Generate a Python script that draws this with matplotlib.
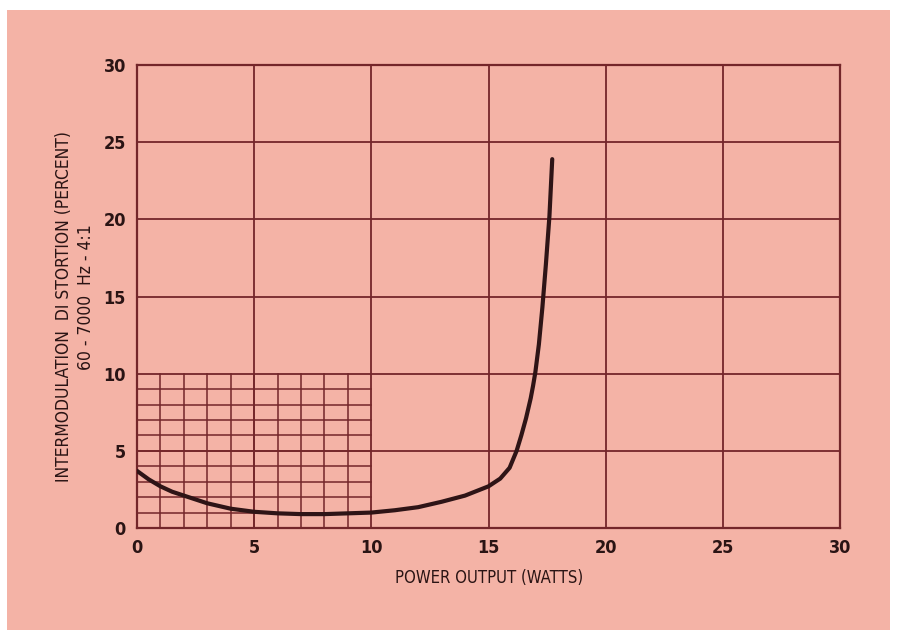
import matplotlib.pyplot as plt
import numpy as np
from matplotlib import font_manager

# curva de distorção por intermodulação
potencia = [0, 0.5, 1, 1.5, 2, 3, 4, 5, 6, 7, 8, 9, 10, 11, 12, 13, 14, 15,
            15.5, 15.9, 16.2, 16.4, 16.6, 16.8, 16.9, 17.0, 17.15, 17.3,
            17.45, 17.6, 17.72]
distorcao = [3.7, 3.15, 2.7, 2.35, 2.1, 1.6, 1.25, 1.05, 0.95, 0.9, 0.9, 0.95,
             1.0, 1.15, 1.35, 1.7, 2.1, 2.7, 3.2, 3.9, 5.0, 6.0, 7.1, 8.4,
             9.2, 10.1, 11.9, 14.3, 17.1, 20.2, 23.9]

ticks = [0, 5, 10, 15, 20, 25, 30]
fino = np.arange(1, 10)

fundo = '#f4b3a6'
cor_grade = '#74262a'
cor_texto = '#2a1414'

nomes = {f.name for f in font_manager.fontManager.ttflist}
fonte = ['Liberation Sans Narrow'] if 'Liberation Sans Narrow' in nomes else ['DejaVu Sans']
esticar = 'normal' if fonte[0] == 'Liberation Sans Narrow' else 'condensed'

fig = plt.figure(figsize=(9, 6.3), dpi=100)
fig.patch.set_facecolor('white')
# papel rosa com margem branca em cima e nos lados
fig.add_artist(plt.Rectangle((7 / 900, 0), 883 / 900, 1 - 10 / 630,
                             transform=fig.transFigure, facecolor=fundo,
                             edgecolor='none', zorder=0))

ax = fig.add_axes([137 / 900, 1 - 528 / 630, 703 / 900, 463 / 630])
ax.set_facecolor('none')
ax.set_xlim(0, 30)
ax.set_ylim(0, 30)

# grade principal
for v in ticks[1:-1]:
    ax.axvline(v, color=cor_grade, lw=1.3, zorder=1)
    ax.axhline(v, color=cor_grade, lw=1.3, zorder=1)

# grade fina no canto inferior esquerdo
for v in fino:
    ax.plot([v, v], [0, 10], color=cor_grade, lw=1.1, zorder=1)
    ax.plot([0, 10], [v, v], color=cor_grade, lw=1.1, zorder=1)

ax.plot(potencia, distorcao, color='#2e1416', lw=3, solid_capstyle='round',
        solid_joinstyle='round', zorder=3)

for s in ax.spines.values():
    s.set_color(cor_grade)
    s.set_linewidth(1.6)

ax.set_xticks(ticks)
ax.set_yticks(ticks)
ax.tick_params(length=0, pad=8, labelcolor=cor_texto, labelsize=13)
for lab in ax.get_xticklabels() + ax.get_yticklabels():
    lab.set_family(fonte)
    lab.set_stretch(esticar)
    lab.set_weight('semibold')

fig.text(489 / 900, 1 - 578 / 630, 'POWER OUTPUT (WATTS)', ha='center',
         va='center', fontsize=12, color=cor_texto, family=fonte,
         stretch=esticar)
fig.text(64 / 900, 1 - 307 / 630, 'INTERMODULATION  DI STORTION (PERCENT)',
         rotation=90, ha='center', va='center', fontsize=12.5,
         color=cor_texto, family=fonte, stretch=esticar)
fig.text(86 / 900, 1 - 297 / 630, '60 - 7000  Hz - 4:1', rotation=90,
         ha='center', va='center', fontsize=12.5, color=cor_texto,
         family=fonte, stretch=esticar)

fig.savefig('out.png', dpi=100, facecolor=fig.get_facecolor())
plt.close()
